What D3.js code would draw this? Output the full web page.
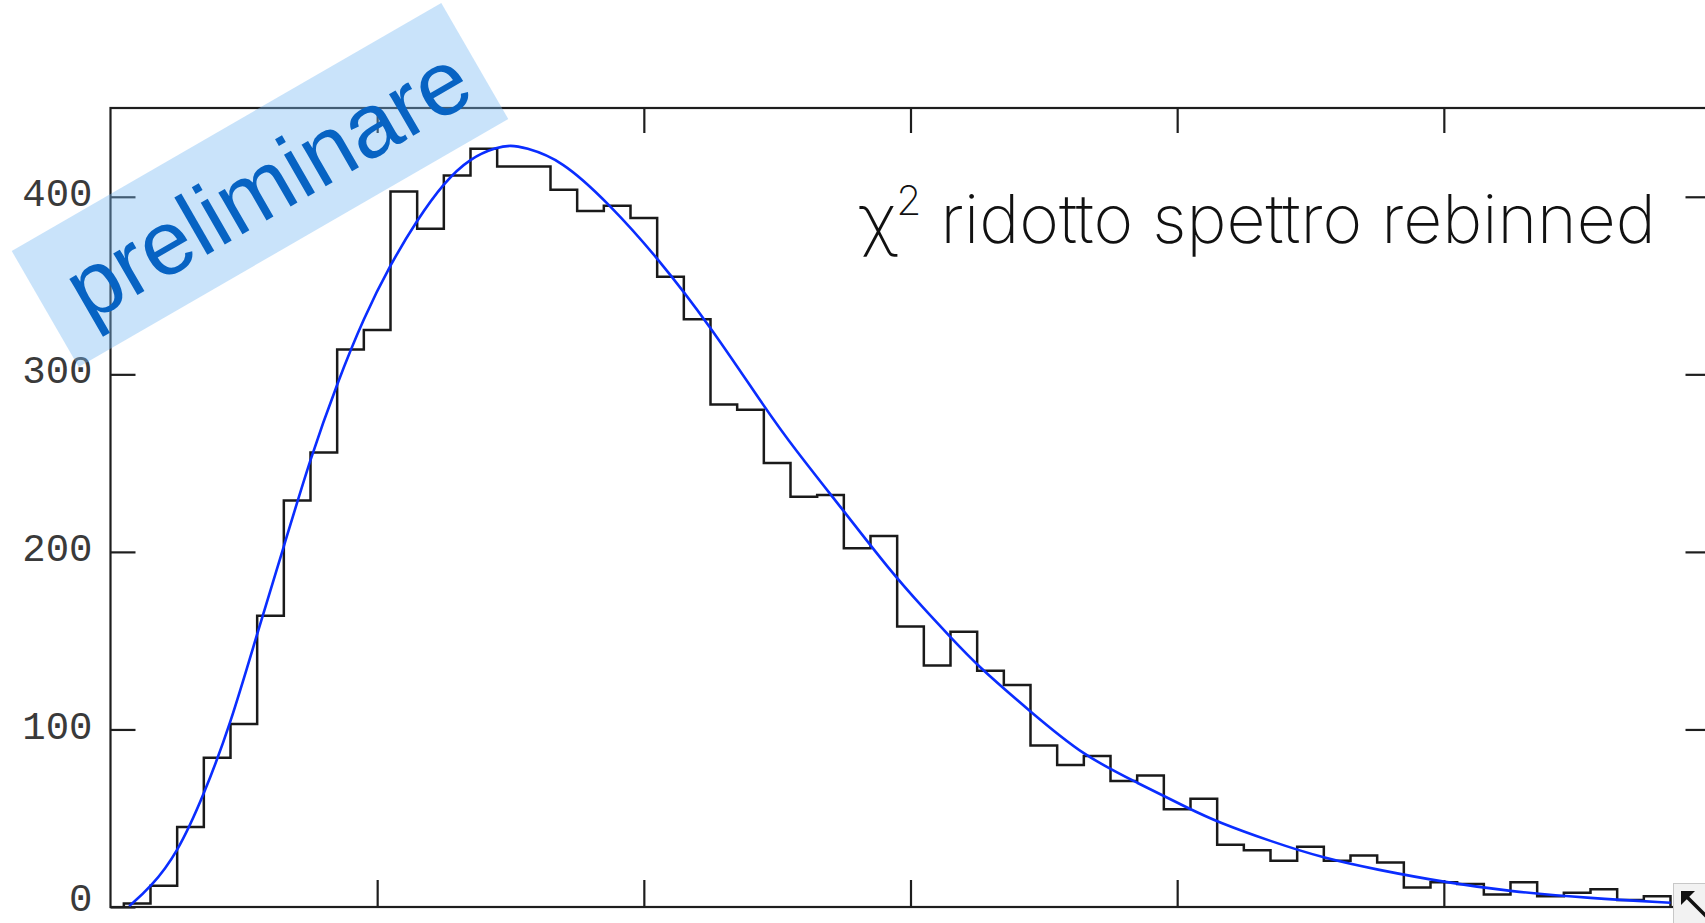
<!DOCTYPE html>
<html>
<head>
<meta charset="utf-8">
<script src="https://cdn.jsdelivr.net/npm/d3@7/dist/d3.min.js"></script>
<style>
  html, body { margin: 0; padding: 0; background: #fff; overflow: hidden; }
  svg { display: block; }
</style>
</head>
<body>
<svg id="chart" width="1705" height="923"></svg>
<script>
// ---------- data ----------
const binStart = 0.05;
const binWidth = 0.1;
const counts = [2, 12, 45, 84, 103, 164, 229, 256, 314, 325,
                403, 382, 412, 427, 417, 417, 404, 392, 395, 388,
                355, 331, 283, 280, 250, 231, 232, 202, 209, 158,
                136, 155, 133, 125, 91, 80, 85, 71, 74, 55,
                61, 35, 32, 26, 34, 26, 29, 25, 11, 14,
                13, 7, 14, 6, 8, 10, 4, 6];
const fitX = [0.07, 0.15, 0.25, 0.35, 0.45, 0.55, 0.65, 0.75, 0.85, 0.95,
              1.05, 1.15, 1.25, 1.35, 1.45, 1.5, 1.55, 1.69, 1.87, 2.05,
              2.25, 2.45, 2.56, 2.75, 2.92, 3.05, 3.15, 3.25, 3.45,
              3.65, 3.85, 4.05, 4.15, 4.35, 4.55, 4.75, 5.0, 5.25, 5.55, 5.85];
const fitY = [0.5, 11, 30, 63, 103, 154, 203, 253, 295, 332,
              362, 387, 408, 422, 428, 429, 428, 421, 396, 366,
              327, 282, 259, 223, 190, 168, 152, 136, 110,
              85, 70, 55, 48, 37, 27.5, 21, 14, 8.7, 4.9, 2.4];
const yTicks = [0, 100, 200, 300, 400];
const xTicks = [1, 2, 3, 4, 5];
const titleMain = "χ";
const titleSup = "2";
const titleRest = " ridotto spettro rebinned";
const watermark = "preliminare";

// ---------- layout ----------
const svg = d3.select("#chart");
const mLeft = 110.5, mRight = 1710.5, mTop = 108, mBottom = 907;
const x = d3.scaleLinear().domain([0, 6]).range([mLeft, mRight]);
const y = d3.scaleLinear().domain([0, 450]).range([mBottom, mTop]);

// frame
svg.append("rect")
  .attr("x", mLeft).attr("y", mTop)
  .attr("width", mRight - mLeft).attr("height", mBottom - mTop)
  .attr("fill", "none").attr("stroke", "#1e1e1e").attr("stroke-width", 2.2);

// axes (inward ticks)
const axStyle = g => {
  g.select(".domain").remove();
  g.selectAll(".tick line").attr("stroke", "#1e1e1e").attr("stroke-width", 2.2);
};
svg.append("g").attr("transform", `translate(${mLeft},0)`)
  .call(d3.axisLeft(y).tickValues(yTicks).tickSize(-25).tickPadding(18))
  .call(axStyle)
  .call(g => g.selectAll(".tick text")
    .attr("font-family", "'Liberation Mono', 'DejaVu Sans Mono', monospace")
    .attr("font-size", 39).attr("fill", "#3a3a3a")
    .attr("dy", d => d === 0 ? "0.08em" : "0.22em"));
svg.append("g").attr("transform", `translate(${mRight},0)`)
  .call(d3.axisRight(y).tickValues(yTicks).tickSize(-25).tickFormat(""))
  .call(axStyle);
svg.append("g").attr("transform", `translate(0,${mBottom})`)
  .call(d3.axisBottom(x).tickValues(xTicks).tickSize(-27).tickFormat(""))
  .call(axStyle);
svg.append("g").attr("transform", `translate(0,${mTop})`)
  .call(d3.axisTop(x).tickValues(xTicks).tickSize(-25).tickFormat(""))
  .call(axStyle);

// histogram outline
const histPts = [[binStart, 0]];
counts.forEach((c, i) => {
  const e0 = binStart + i * binWidth;
  histPts.push([e0, c], [e0 + binWidth, c]);
});
histPts.push([binStart + counts.length * binWidth, 0]);
svg.append("path")
  .attr("d", d3.line().x(d => x(d[0])).y(d => y(d[1]))(histPts))
  .attr("fill", "none").attr("stroke", "#1a1a1a").attr("stroke-width", 2.5)
  .attr("stroke-linejoin", "miter");

// fitted curve
const fitPts = fitX.map((v, i) => [v, fitY[i]]);
svg.append("path")
  .attr("d", d3.line().x(d => x(d[0])).y(d => y(d[1])).curve(d3.curveBasis)(fitPts))
  .attr("fill", "none").attr("stroke", "#0a2dff").attr("stroke-width", 2.6);

// title
const title = svg.append("text")
  .attr("x", 859).attr("y", 243)
  .attr("font-family", "Inter, Roboto, 'Open Sans', 'Liberation Sans', sans-serif")
  .attr("font-weight", 250).attr("font-size", 73).attr("fill", "#111");
title.append("tspan").text(titleMain);
title.append("tspan").attr("font-size", 44).attr("dy", -30).text(titleSup);
title.append("tspan").attr("dy", 30).text(titleRest);
{
  const w = title.node().getBBox().width;
  const target = 797;
  const fs = 73 * target / w;
  const k = fs / 73;
  title.attr("font-size", fs);
  title.selectAll("tspan").filter((d, i) => i === 1).attr("font-size", 44 * k).attr("dy", -30 * k);
  title.selectAll("tspan").filter((d, i) => i === 2).attr("dy", 30 * k);
}

// resize icon (bottom-right corner)
const icon = svg.append("g");
icon.append("rect").attr("x", 1673.5).attr("y", 883.5).attr("width", 40).attr("height", 45)
  .attr("fill", "#f2f2f2").attr("stroke", "#c8c8c8").attr("stroke-width", 1);
icon.append("line").attr("x1", 1684).attr("y1", 894).attr("x2", 1708).attr("y2", 918)
  .attr("stroke", "#111").attr("stroke-width", 3.5);
icon.append("path").attr("d", "M1681,891 L1681,905 L1695,891 Z").attr("fill", "#111");

// watermark
const wm = svg.append("g").attr("transform", "translate(260,185) rotate(-30)");
wm.append("rect").attr("x", -248).attr("y", -67).attr("width", 496).attr("height", 134)
  .attr("fill", "rgb(120,185,242)").attr("fill-opacity", 0.4);
const wt = wm.append("text").attr("x", 7).attr("y", 34)
  .attr("text-anchor", "middle")
  .attr("font-family", "'Liberation Sans', Arial, Helvetica, sans-serif")
  .attr("font-size", 88).attr("fill", "#0763c3").text(watermark);
{
  const w = wt.node().getComputedTextLength();
  wt.attr("font-size", 88 * 450 / w);
}
</script>
</body>
</html>
